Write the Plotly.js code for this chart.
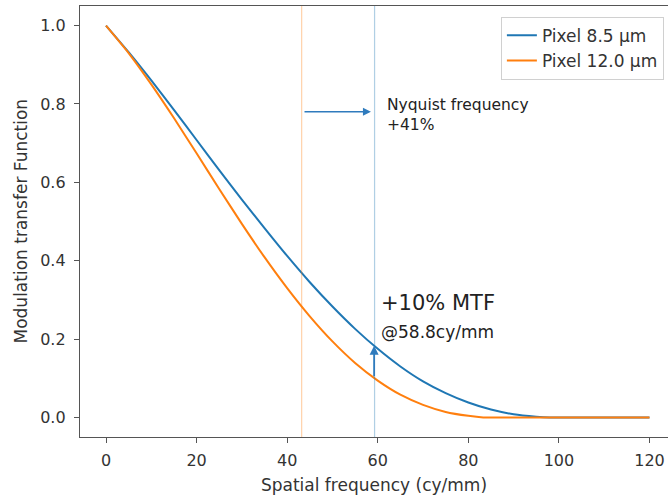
<!DOCTYPE html>
<html>
<head>
<meta charset="utf-8">
<script src="https://cdn.plot.ly/plotly-3.0.1.min.js"></script>
<style>html,body{margin:0;padding:0;background:#fff;overflow:hidden}#chart{width:668px;height:495px}</style>
</head>
<body>
<div id="chart"></div>
<script>
// Spatial frequency (cy/mm) and MTF values
const freqBlue = [0,5,10,15,20,25,30,35,40,45,50,55,60,65,70,75,80,85,90,95,98,100,105,110,115,120];
const mtfBlue  = [1.000,0.932,0.860,0.785,0.708,0.631,0.556,0.483,0.412,0.345,0.283,0.226,0.175,0.130,0.092,0.062,0.038,0.020,0.008,0.002,0,0,0,0,0,0];
const freqOrange = [0,5,10,15,20,25,30,35,40,45,50,55,60,65,70,75,80,83.3,85,90,95,100,105,110,115,120];
const mtfOrange  = [1.000,0.930,0.850,0.764,0.674,0.583,0.494,0.409,0.330,0.258,0.194,0.139,0.094,0.058,0.032,0.014,0.004,0,0,0,0,0,0,0,0,0];
const seriesNames = ["Pixel 8.5 µm", "Pixel 12.0 µm"];
const nyquistLines = [43.2, 59.3];   // orange (12.0 µm), blue (8.5 µm)
const arrowFreq = 59.2;
const xTicks = [0,20,40,60,80,100,120];
const yTicks = [0,0.2,0.4,0.6,0.8,1.0];

const BLUE = "#1f77b4", ORANGE = "#ff7f0e";
const FONT = "DejaVu Sans, sans-serif";

function interp(xs, ys, x){
  for(let i=0;i<xs.length-1;i++){
    if(x>=xs[i] && x<=xs[i+1]){
      const t=(x-xs[i])/(xs[i+1]-xs[i]);
      return ys[i]+t*(ys[i+1]-ys[i]);
    }
  }
  return ys[ys.length-1];
}

const traces = [
  {x: freqBlue, y: mtfBlue, name: seriesNames[0], type: "scatter", mode: "lines",
   line: {color: BLUE, width: 2, shape: "spline", smoothing: 0.6}},
  {x: freqOrange, y: mtfOrange, name: seriesNames[1], type: "scatter", mode: "lines",
   line: {color: ORANGE, width: 2, shape: "spline", smoothing: 0.6}}
];

const yTop = interp(freqBlue, mtfBlue, arrowFreq);
const yBot = interp(freqOrange, mtfOrange, arrowFreq);

const layout = {
  width: 668, height: 495,
  margin: {l: 80, r: 0, t: 6, b: 58},
  paper_bgcolor: "#fff", plot_bgcolor: "#fff",
  font: {family: FONT, size: 16, color: "#333"},
  showlegend: true,
  legend: {x: 0.993, xanchor: "right", y: 0.975, yanchor: "top",
           bgcolor: "#fff", bordercolor: "#d0d0d0", borderwidth: 1, tracegroupgap: 0,
           font: {family: FONT, size: 17, color: "#333"}},
  xaxis: {range: [-5.74, 124.09], tickvals: xTicks, ticktext: xTicks.map(String),
          showgrid: false, zeroline: false, showline: true, linecolor: "#555", linewidth: 1.2,
          mirror: true, ticks: "outside", ticklen: 5, tickcolor: "#555", ticklabelstandoff: 4,
          title: {text: "Spatial frequency (cy/mm)", font: {family: FONT, size: 17, color: "#333"}}},
  yaxis: {range: [-0.05, 1.05], tickvals: yTicks, ticktext: yTicks.map(v => v.toFixed(1)),
          showgrid: false, zeroline: false, showline: true, linecolor: "#555", linewidth: 1.2,
          mirror: false, ticks: "outside", ticklen: 5, tickcolor: "#555", ticklabelstandoff: 5},
  shapes: [
    {type: "line", xref: "x", yref: "paper", x0: nyquistLines[0], x1: nyquistLines[0], y0: 0, y1: 1,
     line: {color: ORANGE, width: 1.2}, opacity: 0.35},
    {type: "line", xref: "x", yref: "paper", x0: nyquistLines[1], x1: nyquistLines[1], y0: 0, y1: 1,
     line: {color: BLUE, width: 1.2}, opacity: 0.35}
  ],
  annotations: [
    {x: -60/588, y: 0.5, xref: "paper", yref: "paper", xanchor: "center", yanchor: "middle",
     textangle: -90, text: "Modulation transfer Function", showarrow: false,
     font: {family: FONT, size: 17, color: "#333"}},
    {x: nyquistLines[1] - 0.8, y: 0.78, ax: nyquistLines[0] + 0.3, ay: 0.78, xref: "x", yref: "y",
     axref: "x", ayref: "y", text: "", showarrow: true, arrowhead: 2, arrowsize: 1, arrowwidth: 1.6,
     arrowcolor: "#2f7bbd"},
    {x: 61.5, y: 0.773, xref: "x", yref: "y", xanchor: "left", yanchor: "middle", align: "left",
     text: "Nyquist frequency<br>+41%", showarrow: false,
     font: {family: FONT, size: 15.5, color: "#222"}},
    {x: arrowFreq, y: yTop, ax: arrowFreq, ay: yBot, xref: "x", yref: "y", axref: "x", ayref: "y",
     text: "", showarrow: true, arrowhead: 2, arrowsize: 1, arrowwidth: 1.8, arrowcolor: "#2f7bbd"},
    {x: 60.2, y: 0.292, xref: "x", yref: "y", xanchor: "left", yanchor: "middle",
     text: "+10% MTF", showarrow: false, font: {family: FONT, size: 21, color: "#222"}},
    {x: 60.2, y: 0.219, xref: "x", yref: "y", xanchor: "left", yanchor: "middle",
     text: "@58.8cy/mm", showarrow: false, font: {family: FONT, size: 17, color: "#222"}}
  ]
};

Plotly.newPlot("chart", traces, layout, {displayModeBar: false, staticPlot: true});
</script>
</body>
</html>
